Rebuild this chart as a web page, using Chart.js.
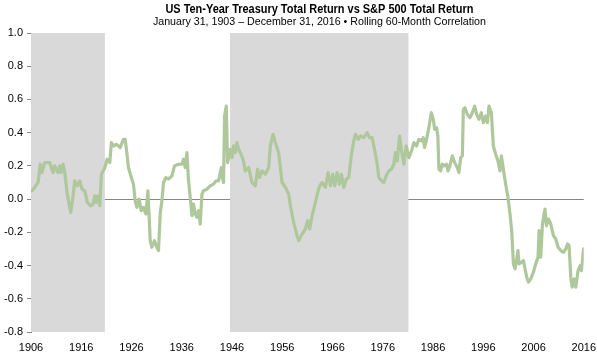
<!DOCTYPE html>
<html>
<head>
<meta charset="utf-8">
<script src="https://cdn.jsdelivr.net/npm/chart.js@4/dist/chart.umd.min.js"></script>
<style>
html,body{margin:0;padding:0;background:#fff;}
#wrap{width:597px;height:357px;}
</style>
</head>
<body>
<div id="wrap"><canvas id="c" width="597" height="357"></canvas></div>
<script>
const titleLine1 = "US Ten-Year Treasury Total Return vs S&P 500 Total Return";
const titleLine2 = "January 31, 1903 \u2013 December 31, 2016 \u2022 Rolling 60-Month Correlation";

const years = [1906.20,1906.74,1907.40,1907.85,1908.19,1908.73,1909.73,1910.38,1910.72,1911.38,1911.72,1912.04,1912.38,1912.72,1913.17,1913.51,1913.91,1914.37,1914.71,1915.23,1915.71,1916.16,1916.70,1917.22,1917.90,1918.36,1918.70,1919.01,1919.35,1919.69,1920.01,1920.69,1921.15,1921.68,1922.00,1922.40,1923.04,1923.74,1924.39,1924.73,1925.07,1925.39,1926.07,1926.39,1926.73,1927.07,1927.52,1927.92,1928.38,1928.86,1929.26,1929.52,1929.72,1930.05,1930.57,1931.05,1931.37,1931.71,1932.05,1932.37,1932.84,1933.36,1934.04,1934.56,1935.36,1936.03,1936.35,1936.69,1937.03,1937.35,1937.69,1938.03,1938.35,1938.68,1939.02,1939.34,1939.68,1940.02,1940.34,1941.02,1941.67,1942.33,1942.81,1943.33,1943.87,1944.00,1944.32,1944.52,1944.86,1945.12,1945.66,1946.00,1946.32,1946.66,1946.99,1947.31,1947.79,1948.19,1948.65,1949.31,1949.98,1950.64,1951.10,1951.50,1951.98,1952.63,1953.29,1953.63,1954.17,1954.63,1955.28,1955.96,1956.62,1957.28,1957.62,1958.27,1958.95,1959.27,1959.95,1960.61,1961.06,1961.46,1961.94,1962.60,1963.06,1963.46,1963.93,1964.59,1965.13,1965.59,1966.05,1966.45,1966.92,1967.38,1967.78,1968.24,1968.72,1969.24,1969.77,1970.23,1970.57,1971.11,1971.57,1972.22,1972.90,1973.36,1973.90,1974.42,1974.90,1975.21,1975.75,1976.21,1976.69,1977.21,1977.75,1978.20,1978.54,1978.88,1979.34,1979.74,1980.20,1980.67,1981.19,1981.73,1982.19,1982.73,1983.19,1983.66,1984.06,1984.32,1984.72,1985.18,1985.66,1986.06,1986.31,1986.71,1986.97,1987.17,1987.51,1987.85,1988.17,1988.71,1988.97,1989.36,1989.84,1990.30,1990.84,1991.16,1991.50,1991.84,1992.03,1992.35,1992.83,1993.35,1993.83,1994.29,1994.68,1995.14,1995.62,1996.02,1996.48,1996.82,1997.14,1997.61,1998.01,1998.47,1998.93,1999.33,1999.61,2000.00,2000.46,2000.92,2001.32,2001.66,2002.00,2002.32,2002.66,2002.91,2003.11,2003.59,2003.99,2004.25,2004.65,2004.99,2005.45,2005.98,2006.44,2006.90,2007.10,2007.44,2007.78,2008.10,2008.29,2008.57,2008.97,2009.43,2009.97,2010.43,2010.89,2011.42,2011.96,2012.42,2012.76,2013.08,2013.42,2013.68,2014.07,2014.41,2014.87,2015.27,2015.55,2015.95];

const correlation = [0.05,0.07,0.10,0.21,0.16,0.22,0.22,0.16,0.20,0.16,0.20,0.16,0.21,0.16,0.04,-0.02,-0.08,0.02,0.11,0.08,0.11,0.06,0.05,-0.02,-0.04,-0.03,0.02,-0.02,0.02,-0.04,0.15,0.19,0.24,0.22,0.34,0.32,0.33,0.31,0.36,0.36,0.28,0.19,0.12,0.09,-0.01,-0.05,0.00,-0.07,-0.05,-0.09,0.05,-0.11,-0.25,-0.29,-0.25,-0.29,-0.31,-0.09,-0.01,0.10,0.13,0.12,0.14,0.20,0.21,0.21,0.24,0.19,0.28,0.11,0.01,-0.10,-0.03,-0.09,-0.11,-0.07,-0.15,0.03,0.05,0.06,0.08,0.09,0.11,0.11,0.19,0.14,0.10,0.50,0.56,0.22,0.30,0.25,0.32,0.28,0.34,0.30,0.27,0.24,0.17,0.19,0.10,0.08,0.18,0.13,0.17,0.15,0.19,0.32,0.39,0.34,0.28,0.10,0.07,0.03,-0.04,-0.14,-0.22,-0.25,-0.21,-0.18,-0.13,-0.18,-0.10,-0.02,0.04,0.08,0.10,0.07,0.16,0.08,0.15,0.08,0.16,0.09,0.15,0.07,0.12,0.13,0.27,0.35,0.39,0.36,0.38,0.37,0.40,0.37,0.37,0.29,0.21,0.13,0.11,0.10,0.14,0.17,0.18,0.21,0.28,0.23,0.38,0.29,0.21,0.32,0.25,0.29,0.34,0.32,0.36,0.35,0.37,0.31,0.36,0.43,0.52,0.48,0.42,0.43,0.38,0.18,0.17,0.21,0.20,0.21,0.17,0.20,0.26,0.22,0.19,0.16,0.25,0.26,0.54,0.55,0.51,0.49,0.52,0.56,0.51,0.48,0.52,0.46,0.50,0.46,0.56,0.52,0.32,0.27,0.23,0.17,0.26,0.18,0.09,0.01,-0.09,-0.19,-0.39,-0.42,-0.36,-0.31,-0.39,-0.38,-0.37,-0.41,-0.47,-0.50,-0.48,-0.44,-0.39,-0.35,-0.19,-0.35,-0.15,-0.09,-0.06,-0.16,-0.12,-0.15,-0.22,-0.24,-0.29,-0.31,-0.32,-0.30,-0.27,-0.28,-0.47,-0.53,-0.48,-0.53,-0.43,-0.40,-0.43,-0.30];

const yTicks = [1.0,0.8,0.6,0.4,0.2,0.0,-0.2,-0.4,-0.6,-0.8];
const xTickYears = [1906,1916,1926,1936,1946,1956,1966,1976,1986,1996,2006,2016];
const shadeStart = [1906, 1945.6];
const shadeEnd = [1920.7, 1981.1];

const points = years.map((y,i)=>({x:y, y:correlation[i]}));

const shadePlugin = {
  id:'shade',
  beforeDatasetsDraw(chart){
    const {ctx, chartArea:a, scales:{x}} = chart;
    ctx.save();
    ctx.fillStyle = '#d9d9d9';
    for(let i=0;i<shadeStart.length;i++){
      const x0 = x.getPixelForValue(shadeStart[i]);
      const x1 = x.getPixelForValue(shadeEnd[i]);
      ctx.fillRect(x0, a.top, x1-x0, a.bottom-a.top);
    }
    ctx.restore();
  }
};
function fitText(ctx, text, cx, cy, targetW){
  const w = ctx.measureText(text).width;
  const k = Math.min(1, targetW / w);
  ctx.save();
  ctx.translate(cx, cy);
  ctx.scale(k, 1);
  ctx.fillText(text, 0, 0);
  ctx.restore();
}
const titlePlugin = {
  id:'titles',
  afterDraw(chart){
    const ctx = chart.ctx;
    const a = chart.chartArea;
    const cx = (a.left + a.right)/2 + 12;
    ctx.save();
    ctx.fillStyle = '#000';
    ctx.textAlign = 'center';
    ctx.textBaseline = 'middle';
    ctx.font = 'bold 12px "Liberation Sans", Arial, sans-serif';
    fitText(ctx, titleLine1, cx, 9.5, 308);
    ctx.font = '11px "Liberation Sans", Arial, sans-serif';
    fitText(ctx, titleLine2, cx, 22, 333);
    ctx.restore();
  }
};

new Chart(document.getElementById('c'), {
  type:'line',
  data:{datasets:[{
    data:points,
    borderColor:'#afc89b',
    borderWidth:3.2,
    pointRadius:0,
    tension:0,
    borderJoinStyle:'round',
    borderCapStyle:'round',
    fill:false
  }]},
  options:{
    responsive:false,
    animation:false,
    devicePixelRatio:1,
    layout:{padding:{top:33,right:9,bottom:0,left:0}},
    plugins:{legend:{display:false}, tooltip:{enabled:false}, title:{display:false}},
    scales:{
      x:{
        type:'linear', min:1906, max:2016,
        afterBuildTicks(s){ s.ticks = xTickYears.map(v=>({value:v})); },
        afterFit(s){ s.height = 25; },
        grid:{display:false},
        border:{display:false},
        ticks:{color:'#000', padding:1, maxRotation:0, autoSkip:false,
          font:{family:'"Liberation Sans", Arial, sans-serif', size:11},
          callback:(v)=>String(v)}
      },
      y:{
        min:-0.8, max:1.0,
        afterBuildTicks(s){ s.ticks = yTicks.map(v=>({value:v})); },
        afterFit(s){ s.width = 31; },
        grid:{
          drawOnChartArea:true,
          color:(c)=> (c.tick && Math.abs(c.tick.value)<1e-9) ? '#868686' : 'rgba(0,0,0,0)',
          tickColor:'#868686',
          tickLength:4,
          lineWidth:1
        },
        border:{display:true, color:'#868686', width:1},
        ticks:{color:'#000', padding:4, autoSkip:false,
          font:{family:'"Liberation Sans", Arial, sans-serif', size:11},
          callback:(v)=>Number(v).toFixed(1)}
      }
    }
  },
  plugins:[shadePlugin, titlePlugin]
});
</script>
</body>
</html>
